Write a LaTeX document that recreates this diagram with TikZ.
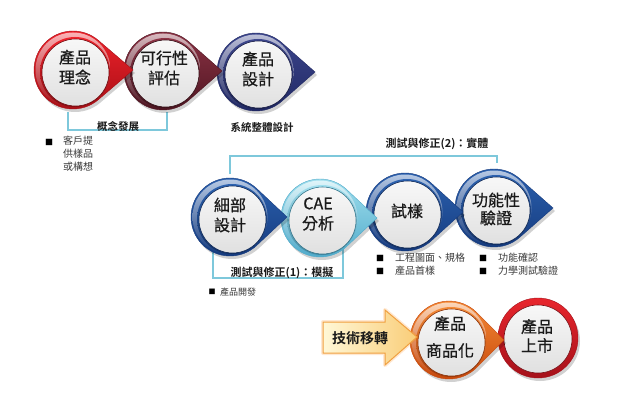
\documentclass[tikz,border=0pt]{standalone}
\usepackage{fontspec}
\newfontfamily\cjk{Noto Sans CJK TC}[BoldFont={Noto Sans CJK TC Bold}]
\newfontfamily\cjkm{Noto Sans CJK TC}[FakeBold=0.7]
\usetikzlibrary{calc}
\definecolor{bracketc}{HTML}{7EC8DB}
\definecolor{txtc}{HTML}{1A1A1A}
\definecolor{graytxt}{HTML}{3A3A3A}
\definecolor{navyT}{HTML}{3D478E}\definecolor{navyB}{HTML}{1F2762}
\definecolor{marT}{HTML}{8E3446}\definecolor{marB}{HTML}{4C1420}
\definecolor{redT}{HTML}{F2232C}\definecolor{redB}{HTML}{A50E15}
\definecolor{bluT}{HTML}{2C62B0}\definecolor{bluB}{HTML}{153A7D}
\definecolor{cyaT}{HTML}{A2E0EE}\definecolor{cyaB}{HTML}{4FAACA}
\definecolor{rcT}{HTML}{E8262D}\definecolor{rcB}{HTML}{A5111A}
\definecolor{orT}{HTML}{F58A36}\definecolor{orB}{HTML}{C6470B}
\definecolor{arL}{HTML}{FFF7D6}\definecolor{arR}{HTML}{F9CD78}\definecolor{arD}{HTML}{F0A040}
\newcommand\tdrop[5]{%
  \pgfmathsetmacro\tdang{acos(#3/#4)}%
  \path[#5] (#1+#4,#2) -- ($(#1,#2)+(\tdang:#3)$) arc[start angle=\tdang, end angle=360-\tdang, radius=#3] -- cycle;}
% #1 x, #2 y, #3 tip offset, #4 top color, #5 bottom color
\newcommand\ringnode[5]{%
  \tdrop{#1}{#2}{39}{#3}{fill=black,fill opacity=.18,xshift=2pt,yshift=-3pt}%
  \tdrop{#1}{#2}{39}{#3}{top color=#4,bottom color=#5,draw=#5,line width=.4pt}%
  \shade[top color=#4!35!white,bottom color=#5] (#1,#2) circle[radius=37.5];%
  \shade[top color=#4,bottom color=#5!80!black] (#1+2,#2+2) circle[radius=35];%
  \shade[top color=white!97!black,bottom color=white!88!black,draw=#5!70!black,line width=.6pt] (#1+2.5,#2+2.5) circle[radius=33.5];}
\newcommand\ringcircle[4]{%
  \fill[black,opacity=.18] (#1+2,#2+3) circle[radius=40];%
  \shade[top color=#3,bottom color=#4,draw=#4,line width=.4pt] (#1,#2) circle[radius=40];%
  \shade[top color=white!97!black,bottom color=white!88!black,draw=#4!70!black,line width=.6pt] (#1,#2+1) circle[radius=34];}
\tikzset{
  x=1pt,y=-1pt,
  bracket/.style={draw=bracketc,line width=1.1pt},
  ntext/.style={font=\cjkm\fontsize{16}{20}\selectfont,text=txtc,align=center,inner sep=0pt},
  lab/.style={font=\cjk\bfseries\fontsize{10.5}{12}\selectfont,text=txtc,inner sep=0pt},
  bul/.style={font=\cjk\fontsize{10}{13}\selectfont,text=graytxt,inner sep=0pt,anchor=west},
  bulsq/.style={font=\cjk\fontsize{8}{10}\selectfont,text=black,inner sep=0pt},
}
\begin{document}
\begin{tikzpicture}
\fill[white] (0,0) rectangle (626,412);
\useasboundingbox (0,0) rectangle (626,412);

% brackets
\coordinate (ba1) at (68,112); \coordinate (ba2) at (167,130); \coordinate (ba3) at (167,112);
\draw[bracket] (ba1) |- (ba2) -- (ba3);
\coordinate (bb1) at (230,174); \coordinate (bb2) at (497,156); \coordinate (bb3) at (497,163);
\draw[bracket] (bb1) |- (bb2) -- (bb3);
\coordinate (bc1) at (213,250); \coordinate (bc2) at (343,278); \coordinate (bc3) at (343,242);
\draw[bracket] (bc1) |- (bc2) -- (bc3);

% top row (right to left so tips overlap the next ring)
\ringnode{256}{72}{59}{navyT}{navyB}
\ringnode{163}{71}{59}{marT}{marB}
\ringnode{73}{70}{60}{redT}{redB}

% middle row
\ringnode{494}{208}{59}{bluT}{bluB}
\ringnode{405}{212}{58}{bluT}{bluB}
\ringnode{320}{218}{57}{cyaT}{cyaB}
\ringnode{230}{217}{57}{bluT}{bluB}

% bottom row
\ringcircle{538}{338}{rcT}{rcB}
\ringnode{449}{340}{55}{orT}{orB}

% arrow
\coordinate (a1) at (323,322);
\path[draw=orange,line width=4pt,opacity=.18,line join=round]
  (a1) -- (385,322) -- (385,310) -- (417,337) -- (385,365) -- (385,353) -- (323,353) -- cycle;
\shade[left color=arL,right color=arR,draw=arD,line width=1pt,line join=miter]
  (a1) -- (385,322) -- (385,310) -- (417,337) -- (385,365) -- (385,353) -- (323,353) -- cycle;
\node[font=\cjk\bfseries\fontsize{14}{16}\selectfont,text=txtc,inner sep=0pt] (tt) at (360,338) {技術移轉};

% node texts
\node[ntext] (n1) at (75,67) {產品\\理念};
\node[ntext] (n2) at (164,68) {可行性\\評估};
\node[ntext] (n3) at (258,69) {產品\\設計};
\node[ntext] (m1) at (230,215) {細部\\設計};
\node[ntext] (m2) at (318,214) {CAE\\分析};
\node[ntext] (m3) at (407,211) {試樣};
\node[ntext,font=\cjkm\fontsize{16}{18}\selectfont] (m4) at (496,209) {功能性\\驗證};
\node[ntext,font=\cjkm\fontsize{16}{27}\selectfont] (b1) at (450,337) {產品\\商品化};
\node[ntext,font=\cjkm\fontsize{16}{19}\selectfont] (b2) at (537,336) {產品\\上市};

% labels
\node[lab] (l1) at (118,126) {概念發展};
\node[lab] (l2) at (262,127) {系統整體設計};
\node[lab,font=\cjk\bfseries\fontsize{11}{12}\selectfont] (l3) at (437,144) {測試與修正(2)：實體};
\node[lab,font=\cjk\bfseries\fontsize{11}{12}\selectfont] (l4) at (282,273) {測試與修正(1)：模擬};

% bullets
\node[bulsq] (s1) at (49,142) {■};
\node[bul,align=left,anchor=north west] (t1) at (63,136) {客戶提\\供樣品\\或構想};
\node[bulsq] (s2) at (380,258) {■};
\node[bul] (t2) at (395,258) {工程圖面、規格};
\node[bulsq] (s3) at (380,271) {■};
\node[bul] (t3) at (395,271) {產品首樣};
\node[bulsq] (s4) at (483,258) {■};
\node[bul] (t4) at (498,258) {功能確認};
\node[bulsq] (s5) at (483,271) {■};
\node[bul] (t5) at (498,271) {力學測試驗證};
\node[bulsq,font=\cjk\fontsize{7}{9}\selectfont] (s6) at (212,292) {■};
\node[bul,font=\cjk\fontsize{9}{11}\selectfont] (t6) at (220,292) {產品開發};
\end{tikzpicture}
\end{document}
